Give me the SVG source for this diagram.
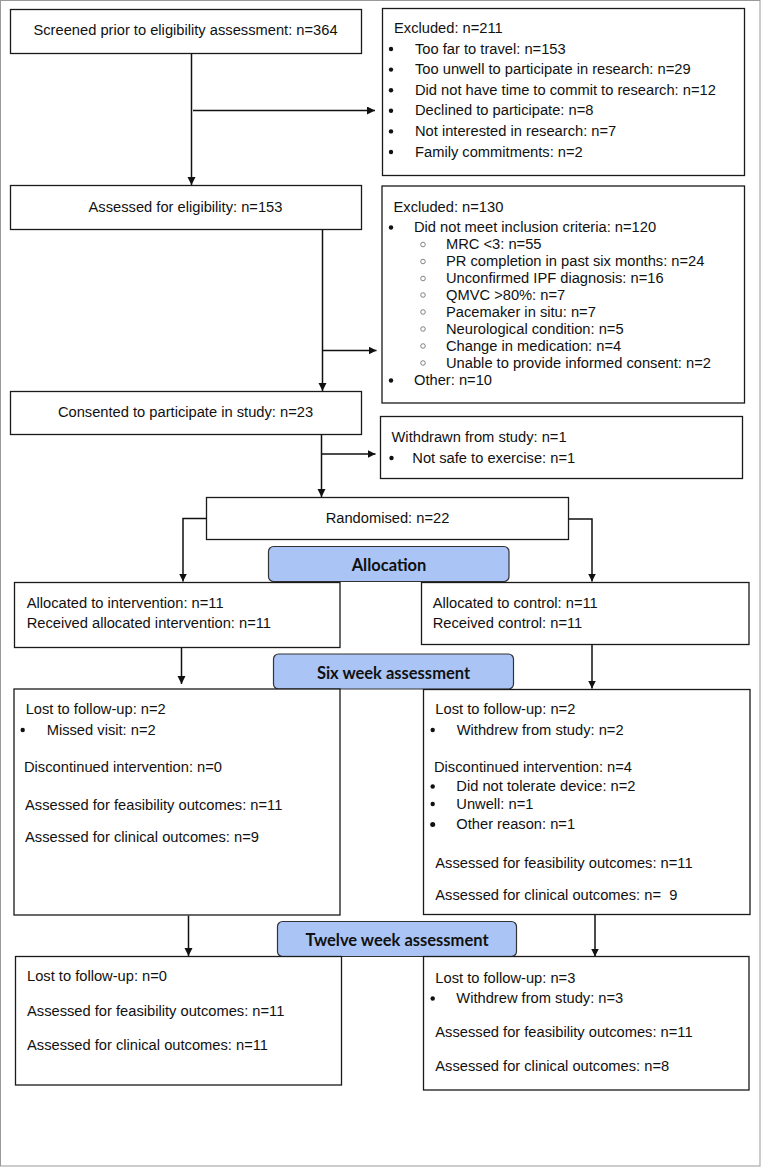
<svg xmlns="http://www.w3.org/2000/svg" width="761" height="1167" viewBox="0 0 761 1167">
<defs>
<style>
.box{fill:#fff;stroke:#1a1a1a;stroke-width:1.3}
.lbl{fill:#a9c4f5;stroke:#333;stroke-width:1.2}
.t{font-family:"Liberation Sans",Arial,sans-serif;font-size:14.7px;fill:#111;white-space:pre}
.c{text-anchor:middle}
.h{font-family:Lato,"Open Sans",sans-serif;font-weight:bold;font-size:16.5px;text-anchor:middle;fill:#111}
.conn{stroke:#111;stroke-width:1.5;fill:none}
.dot{fill:#111}
.ring{fill:none;stroke:#666;stroke-width:0.8}
</style>
<marker id="ah" markerUnits="userSpaceOnUse" markerWidth="9" markerHeight="9" refX="8" refY="4" orient="auto">
<path d="M0,0 L8,4 L0,8 z" fill="#111"/>
</marker>
</defs>
<rect x="0.5" y="0.5" width="759.5" height="1165.5" fill="#fff" stroke="#999" stroke-width="1"/>

<g id="connectors">
<path class="conn" d="M191.5,53.5 V185" marker-end="url(#ah)"/>
<path class="conn" d="M193,110.5 H375" marker-end="url(#ah)"/>
<path class="conn" d="M322.5,229.5 V391" marker-end="url(#ah)"/>
<path class="conn" d="M322.5,350.5 H376.5" marker-end="url(#ah)"/>
<path class="conn" d="M321.5,434.5 V497" marker-end="url(#ah)"/>
<path class="conn" d="M321.5,454 H375.5" marker-end="url(#ah)"/>
<path class="conn" d="M206.5,518.5 H183 V581.5" marker-end="url(#ah)"/>
<path class="conn" d="M568.5,519 H592 V581.5" marker-end="url(#ah)"/>
<path class="conn" d="M181.5,648 V684" marker-end="url(#ah)"/>
<path class="conn" d="M592,644.5 V688.5" marker-end="url(#ah)"/>
<path class="conn" d="M188.5,915.5 V956" marker-end="url(#ah)"/>
<path class="conn" d="M595,914.5 V956.5" marker-end="url(#ah)"/>
</g>

<g id="screened">
<rect class="box" x="10.5" y="9.5" width="351" height="44"/>
<text class="t c" x="185.5" y="35">Screened prior to eligibility assessment: n=364</text>
</g>

<g id="excluded211">
<rect class="box" x="382.5" y="8.5" width="362" height="167"/>
<text class="t" x="394" y="33">Excluded: n=211</text>
<circle class="dot" cx="391" cy="49" r="2.2"/><text class="t" x="415" y="53.6">Too far to travel: n=153</text>
<circle class="dot" cx="391" cy="69.6" r="2.2"/><text class="t" x="415" y="74.2">Too unwell to participate in research: n=29</text>
<circle class="dot" cx="391" cy="90.2" r="2.2"/><text class="t" x="415" y="94.8">Did not have time to commit to research: n=12</text>
<circle class="dot" cx="391" cy="110.8" r="2.2"/><text class="t" x="415" y="115.4">Declined to participate: n=8</text>
<circle class="dot" cx="391" cy="131.4" r="2.2"/><text class="t" x="415" y="136">Not interested in research: n=7</text>
<circle class="dot" cx="391" cy="152" r="2.2"/><text class="t" x="415" y="156.6">Family commitments: n=2</text>
</g>

<g id="assessed">
<rect class="box" x="10.5" y="185.5" width="351" height="44"/>
<text class="t c" x="185.5" y="211.5">Assessed for eligibility: n=153</text>
</g>

<g id="excluded130">
<rect class="box" x="382" y="186" width="362.5" height="217"/>
<text class="t" x="393.5" y="211.5">Excluded: n=130</text>
<circle class="dot" cx="391" cy="227.5" r="2.2"/><text class="t" x="414" y="232">Did not meet inclusion criteria: n=120</text>
<circle class="ring" cx="423" cy="244.5" r="2.3"/><text class="t" x="446" y="249">MRC &lt;3: n=55</text>
<circle class="ring" cx="423" cy="261.5" r="2.3"/><text class="t" x="446" y="266">PR completion in past six months: n=24</text>
<circle class="ring" cx="423" cy="278.5" r="2.3"/><text class="t" x="446" y="283">Unconfirmed IPF diagnosis: n=16</text>
<circle class="ring" cx="423" cy="295" r="2.3"/><text class="t" x="446" y="299.5">QMVC &gt;80%: n=7</text>
<circle class="ring" cx="423" cy="312" r="2.3"/><text class="t" x="446" y="316.5">Pacemaker in situ: n=7</text>
<circle class="ring" cx="423" cy="329" r="2.3"/><text class="t" x="446" y="333.5">Neurological condition: n=5</text>
<circle class="ring" cx="423" cy="346" r="2.3"/><text class="t" x="446" y="350.5">Change in medication: n=4</text>
<circle class="ring" cx="423" cy="363" r="2.3"/><text class="t" x="446" y="367.5">Unable to provide informed consent: n=2</text>
<circle class="dot" cx="391" cy="380.5" r="2.2"/><text class="t" x="414" y="385">Other: n=10</text>
</g>

<g id="consented">
<rect class="box" x="10.5" y="391.5" width="351" height="43"/>
<text class="t c" x="185.5" y="416.5">Consented to participate in study: n=23</text>
</g>

<g id="withdrawn">
<rect class="box" x="380.5" y="416.5" width="362" height="62"/>
<text class="t" x="391.5" y="442">Withdrawn from study: n=1</text>
<circle class="dot" cx="391.5" cy="458" r="2.2"/><text class="t" x="412.3" y="462.5">Not safe to exercise: n=1</text>
</g>

<g id="randomised">
<rect class="box" x="206.5" y="497.5" width="362" height="42"/>
<text class="t c" x="387.5" y="522.5">Randomised: n=22</text>
</g>

<g id="allocation">
<rect class="lbl" x="268.5" y="546.5" width="240.5" height="35" rx="5"/>
<text class="h" x="389" y="570.5">Allocation</text>
</g>

<g id="intervention">
<rect class="box" x="14.5" y="582.5" width="325.5" height="65"/>
<text class="t" x="26.7" y="608">Allocated to intervention: n=11</text>
<text class="t" x="26.7" y="627.5">Received allocated intervention: n=11</text>
</g>

<g id="control">
<rect class="box" x="421.5" y="582.5" width="327.5" height="62"/>
<text class="t" x="432.7" y="608">Allocated to control: n=11</text>
<text class="t" x="432.7" y="627.5">Received control: n=11</text>
</g>

<g id="sixweek">
<rect class="lbl" x="273.5" y="654" width="240" height="35" rx="5"/>
<text class="h" x="393.5" y="678.5">Six week assessment</text>
</g>

<g id="int6">
<rect class="box" x="14" y="689" width="326" height="226"/>
<text class="t" x="25.7" y="714">Lost to follow-up: n=2</text>
<circle class="dot" cx="22.7" cy="730" r="2.2"/><text class="t" x="46.7" y="734.5">Missed visit: n=2</text>
<text class="t" x="24" y="772">Discontinued intervention: n=0</text>
<text class="t" x="25" y="809.5">Assessed for feasibility outcomes: n=11</text>
<text class="t" x="25" y="842">Assessed for clinical outcomes: n=9</text>
</g>

<g id="ctl6">
<rect class="box" x="423.5" y="689.5" width="326.5" height="225"/>
<text class="t" x="435.3" y="714">Lost to follow-up: n=2</text>
<circle class="dot" cx="432.7" cy="730" r="2.2"/><text class="t" x="456.7" y="734.5">Withdrew from study: n=2</text>
<text class="t" x="434" y="772">Discontinued intervention: n=4</text>
<circle class="dot" cx="432.7" cy="786.5" r="2.2"/><text class="t" x="456.3" y="791">Did not tolerate device: n=2</text>
<circle class="dot" cx="432.7" cy="804" r="2.2"/><text class="t" x="456.3" y="808.5">Unwell: n=1</text>
<circle class="dot" cx="432.7" cy="824.5" r="2.5"/><text class="t" x="456.3" y="829">Other reason: n=1</text>
<text class="t" x="435.3" y="867.5">Assessed for feasibility outcomes: n=11</text>
<text class="t" x="435.3" y="899.5">Assessed for clinical outcomes: n=  9</text>
</g>

<g id="twelveweek">
<rect class="lbl" x="277.5" y="921.5" width="239" height="35" rx="5"/>
<text class="h" x="397" y="945.5">Twelve week assessment</text>
</g>

<g id="int12">
<rect class="box" x="15.5" y="956.5" width="326" height="128.5"/>
<text class="t" x="27" y="981">Lost to follow-up: n=0</text>
<text class="t" x="27" y="1016">Assessed for feasibility outcomes: n=11</text>
<text class="t" x="27" y="1050">Assessed for clinical outcomes: n=11</text>
</g>

<g id="ctl12">
<rect class="box" x="423.5" y="956.5" width="325.5" height="133.5"/>
<text class="t" x="435.3" y="982.5">Lost to follow-up: n=3</text>
<circle class="dot" cx="432.7" cy="998.5" r="2.2"/><text class="t" x="456.3" y="1003">Withdrew from study: n=3</text>
<text class="t" x="435.3" y="1037">Assessed for feasibility outcomes: n=11</text>
<text class="t" x="435.3" y="1071">Assessed for clinical outcomes: n=8</text>
</g>
</svg>
